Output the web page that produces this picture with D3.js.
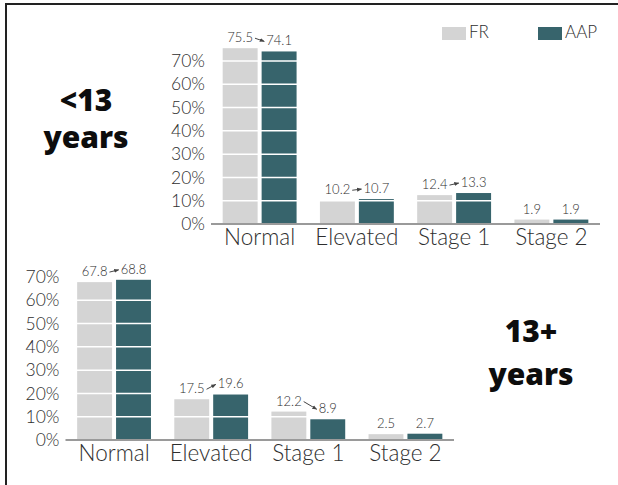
<!DOCTYPE html>
<html>
<head>
<meta charset="utf-8">
<script src="https://cdn.jsdelivr.net/npm/d3@7"></script>
<style>
  html, body { margin: 0; padding: 0; background: #fff; }
  svg { display: block; }
  .tick text { font-family: Lato, "Open Sans", sans-serif; font-weight: 300; }
</style>
</head>
<body>
<svg id="chart" width="618" height="485"></svg>
<script>
// Blood-pressure classification shares, FR vs AAP criteria, by age group
const categories = ["Normal", "Elevated", "Stage 1", "Stage 2"];
const seriesNames = ["FR", "AAP"];
const under13FR  = [75.5, 10.2, 12.4, 1.9];
const under13AAP = [74.1, 10.7, 13.3, 1.9];
const over13FR   = [67.8, 17.5, 12.2, 2.5];
const over13AAP  = [68.8, 19.6, 8.9, 2.7];
const yTicks = [0, 10, 20, 30, 40, 50, 60, 70];
const tickLabels = ["0%", "10%", "20%", "30%", "40%", "50%", "60%", "70%"];
const arrowCategories = ["Normal", "Elevated", "Stage 1"];

const colors = { FR: "#d4d4d4", AAP: "#37646c" };
const textColor = "#2e2e2e";
const svg = d3.select("#chart");

// Frame lines (left and top)
svg.append("line").attr("x1", 6).attr("x2", 6).attr("y1", 3).attr("y2", 485)
  .attr("stroke", "#222").attr("stroke-width", 2);
svg.append("line").attr("x1", 5).attr("x2", 618).attr("y1", 4).attr("y2", 4)
  .attr("stroke", "#222").attr("stroke-width", 2);

const defs = svg.append("defs");
defs.append("marker")
  .attr("id", "arrowhead")
  .attr("viewBox", "0 0 10 10")
  .attr("refX", 9).attr("refY", 5)
  .attr("markerWidth", 5).attr("markerHeight", 5)
  .attr("orient", "auto")
  .append("path").attr("d", "M0,1 L10,5 L0,9 Z").attr("fill", "#444");

function drawPanel(opts) {
  const { frVals, aapVals, x0, x1, baseline, top } = opts;
  const rows = categories.map((c, i) => ({ cat: c, FR: frVals[i], AAP: aapVals[i] }));

  const x = d3.scaleBand().domain(categories).range([x0, x1])
    .paddingInner(0.24).paddingOuter(0.12);
  const xs = d3.scaleBand().domain(seriesNames).range([0, x.bandwidth()])
    .paddingInner(0.1026);
  const y = d3.scaleLinear().domain([0, 70]).range([baseline, top]);

  const g = svg.append("g");

  // Bars
  const groups = g.selectAll("g.cat").data(rows).join("g")
    .attr("class", "cat")
    .attr("transform", d => `translate(${x(d.cat)},0)`);
  groups.selectAll("rect").data(d => seriesNames.map(s => ({ s, v: d[s] }))).join("rect")
    .attr("x", d => xs(d.s))
    .attr("width", xs.bandwidth())
    .attr("y", d => y(d.v))
    .attr("height", d => y(0) - y(d.v))
    .attr("fill", d => colors[d.s]);

  // White gridlines across the bars
  g.selectAll("line.grid").data(yTicks.filter(t => t > 0)).join("line")
    .attr("class", "grid")
    .attr("x1", x0).attr("x2", x1)
    .attr("y1", d => y(d)).attr("y2", d => y(d))
    .attr("stroke", "#fff").attr("stroke-width", 1.5);

  // Baseline
  g.append("line").attr("x1", x0).attr("x2", x1)
    .attr("y1", y(0)).attr("y2", y(0))
    .attr("stroke", "#9a9a9a").attr("stroke-width", 2);

  // Y axis labels
  const yAxis = d3.axisLeft(y).tickValues(yTicks).tickSize(0).tickPadding(6)
    .tickFormat((d, i) => tickLabels[i]);
  const ya = g.append("g").attr("transform", `translate(${x0},0)`).call(yAxis);
  ya.select(".domain").remove();
  ya.selectAll("text").attr("font-size", 17.5).attr("fill", textColor);

  // Category axis labels
  const xAxis = d3.axisBottom(x).tickSize(0).tickPadding(5);
  const xa = g.append("g").attr("transform", `translate(0,${baseline})`).call(xAxis);
  xa.select(".domain").remove();
  xa.selectAll("text").attr("font-size", 22.5).attr("fill", textColor);

  // Value labels and arrows
  rows.forEach(d => {
    const cx = {};
    const lab = {};
    seriesNames.forEach(s => {
      cx[s] = x(d.cat) + xs(s) + xs.bandwidth() / 2;
      lab[s] = g.append("text")
        .attr("x", cx[s]).attr("y", y(d[s]) - 6)
        .attr("text-anchor", "middle")
        .attr("font-family", "Lato, 'Open Sans', sans-serif")
        .attr("font-weight", 300)
        .attr("font-size", 13)
        .attr("fill", textColor)
        .text(d3.format(".1f")(d[s]));
    });
    if (arrowCategories.includes(d.cat)) {
      const wFR = lab.FR.node().getComputedTextLength();
      const wAAP = lab.AAP.node().getComputedTextLength();
      const ax1 = cx.FR + wFR / 2 + 2;
      const ax2 = cx.AAP - wAAP / 2 - 2;
      const ay1 = y(d.FR) - 10;
      const ay2 = y(d.AAP) - 10;
      g.append("line")
        .attr("x1", ax1).attr("y1", ay1).attr("x2", ax2).attr("y2", ay2)
        .attr("stroke", "#444").attr("stroke-width", 1)
        .attr("marker-end", "url(#arrowhead)");
    }
  });
}

function drawTitle(lines, cx, y0, lineGap) {
  const t = svg.append("text")
    .attr("text-anchor", "middle")
    .attr("font-family", "'Open Sans', sans-serif")
    .attr("font-weight", 800)
    .attr("font-size", 30)
    .attr("fill", "#0d0d0d");
  lines.forEach((l, i) => {
    t.append("tspan").attr("x", cx).attr("y", y0 + i * lineGap).text(l);
  });
}

drawPanel({ frVals: under13FR, aapVals: under13AAP, x0: 211, x1: 600, baseline: 224, top: 61 });
drawPanel({ frVals: over13FR, aapVals: over13AAP, x0: 65.5, x1: 454, baseline: 440, top: 277 });

drawTitle(["<13", "years"], 86, 111, 37);
drawTitle(["13+", "years"], 531, 342, 43);

// Legend
const legend = svg.append("g");
const legendItems = [
  { s: "FR", x: 442 },
  { s: "AAP", x: 538 }
];
legendItems.forEach(it => {
  legend.append("rect").attr("x", it.x).attr("y", 27).attr("width", 24).attr("height", 13)
    .attr("fill", colors[it.s]);
  legend.append("text").attr("x", it.x + 27).attr("y", 38)
    .attr("font-family", "Lato, 'Open Sans', sans-serif")
    .attr("font-weight", 300)
    .attr("font-size", 17).attr("fill", textColor)
    .text(it.s);
});
</script>
</body>
</html>
